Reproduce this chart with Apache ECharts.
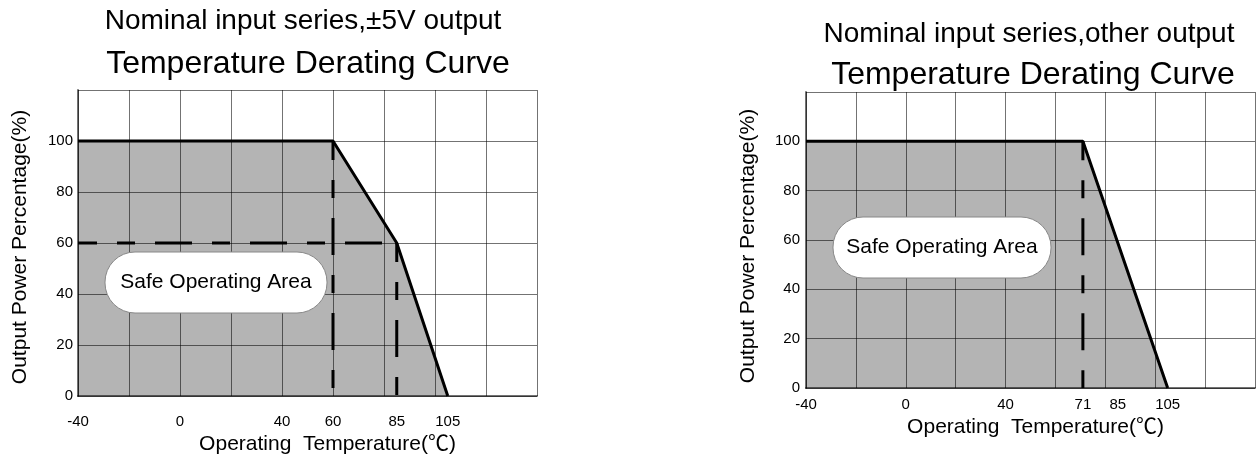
<!DOCTYPE html>
<html><head><meta charset="utf-8">
<script src="https://cdn.jsdelivr.net/npm/echarts@6/dist/echarts.min.js"></script>
<style>html,body{margin:0;padding:0;background:#fff}#c{width:1260px;height:459px}</style>
</head><body><div id="c"></div>
<script>
const leftTitle = 'Nominal input series,±5V output';
const rightTitle = 'Nominal input series,other output';
const subTitle = 'Temperature Derating Curve';
const xName = 'Operating  Temperature(℃)';
const yName = 'Output Power Percentage(%)';
const areaLabel = 'Safe Operating Area';

const leftTemp = [-40, 60, 85, 105];
const leftPower = [100, 100, 60, 0];
const rightTemp = [-40, 71, 105];
const rightPower = [100, 100, 0];

const leftXLabels = [-40, 0, 40, 60, 85, 105];
const rightXLabels = [-40, 0, 40, 71, 85, 105];
const yLabels = [0, 20, 40, 60, 80, 100];

// dashed guide segments: [temp1, power1, temp2, power2]
const leftGuides = [[-40, 60, 85, 60], [60, 100, 60, 0], [85, 60, 85, 0]];
const rightGuides = [[71, 100, 71, 0]];

const FONT = "'Liberation Sans', Arial, 'Noto Sans CJK SC', sans-serif";
const GRIDC = 'rgba(0,0,0,0.55)';
const FILL = '#b4b4b4';

const zip = (a, b) => a.map((v, i) => [v, b[i]]);

function xAxis(gi, labels, margin, gap, pad) {
  return {
    type: 'value', gridIndex: gi, min: -40, max: 140, interval: 20, z: 3,
    axisLine: { show: true, onZero: false, lineStyle: { color: GRIDC, width: 2 } },
    axisTick: { show: false },
    splitLine: { show: true, lineStyle: { color: GRIDC, width: 1 } },
    axisLabel: { customValues: labels, fontSize: 15, color: '#000', fontFamily: FONT, margin: margin },
    name: xName, nameLocation: 'middle', nameGap: gap,
    nameTextStyle: { fontSize: 21, color: '#000', fontFamily: FONT, padding: pad }
  };
}
function yAxis(gi, margin, gap, pad) {
  return {
    type: 'value', gridIndex: gi, min: 0, max: 120, interval: 20, z: 3,
    axisLine: { show: true, onZero: false, lineStyle: { color: GRIDC, width: 2 } },
    axisTick: { show: false },
    splitLine: { show: true, lineStyle: { color: GRIDC, width: 1 } },
    axisLabel: { customValues: yLabels, fontSize: 15, color: '#000', fontFamily: FONT, margin: margin },
    name: yName, nameLocation: 'middle', nameGap: gap,
    nameTextStyle: { fontSize: 21, color: '#000', fontFamily: FONT, padding: pad }
  };
}
function curveSeries(gi, temp, power) {
  const data = zip(temp, power);
  return [
    { type: 'line', xAxisIndex: gi, yAxisIndex: gi, data: data, symbol: 'none', z: 1,
      lineStyle: { width: 0 }, areaStyle: { color: FILL, opacity: 1 }, silent: true, animation: false },
    { type: 'line', xAxisIndex: gi, yAxisIndex: gi, data: data, symbol: 'none', z: 5,
      lineStyle: { width: 3, color: '#000' }, silent: true, animation: false }
  ];
}
function guideSeries(gi, guides) {
  return guides.map(g => ({
    type: 'line', xAxisIndex: gi, yAxisIndex: gi, data: [[g[0], g[1]], [g[2], g[3]]],
    symbol: 'none', z: 4, silent: true, animation: false,
    lineStyle: { width: 3, color: '#000', type: [37, 20, 18, 20], dashOffset: 18 }
  }));
}
function titleItem(text, x, y, size) {
  return { text: text, left: x, top: y, textAlign: 'center', textVerticalAlign: 'middle', padding: 0,
    textStyle: { fontSize: size, fontWeight: 'normal', color: '#000', fontFamily: FONT } };
}
function labelBox(x, y, w, h) {
  return [
    { type: 'rect', z: 100, shape: { x: x, y: y, width: w, height: h, r: 30 },
      style: { fill: '#fff', stroke: '#888', lineWidth: 1 } },
    { type: 'text', z: 101, x: x + w / 2, y: y + h / 2,
      style: { text: areaLabel, fontSize: 21, fontFamily: FONT, fill: '#000', align: 'center', verticalAlign: 'middle' } }
  ];
}

const chart = echarts.init(document.getElementById('c'), null, { renderer: 'canvas' });
chart.setOption({
  animation: false,
  backgroundColor: '#fff',
  title: [
    titleItem(leftTitle, 303, 21, 28),
    titleItem(subTitle, 308, 64, 32),
    titleItem(rightTitle, 1029, 34, 28),
    titleItem(subTitle, 1033, 75, 32)
  ],
  grid: [
    { left: 78, top: 90, width: 459, height: 306, containLabel: false, outerBoundsMode: 'none' },
    { left: 806, top: 92, width: 449, height: 296, containLabel: false, outerBoundsMode: 'none' }
  ],
  xAxis: [ xAxis(0, leftXLabels, 18, 37, [0, 0, 0, 40]), xAxis(1, rightXLabels, 9, 27, [0, 0, 0, 10]) ],
  yAxis: [ yAxis(0, 5, 47, [0, 8, 0, 0]), yAxis(1, 6, 47, [0, 12, 0, 0]) ],
  series: [].concat(
    curveSeries(0, leftTemp, leftPower), guideSeries(0, leftGuides),
    curveSeries(1, rightTemp, rightPower), guideSeries(1, rightGuides)
  ),
  graphic: { elements: [].concat(labelBox(105, 252, 222, 61), labelBox(833, 217, 218, 61)) }
});
</script></body></html>
